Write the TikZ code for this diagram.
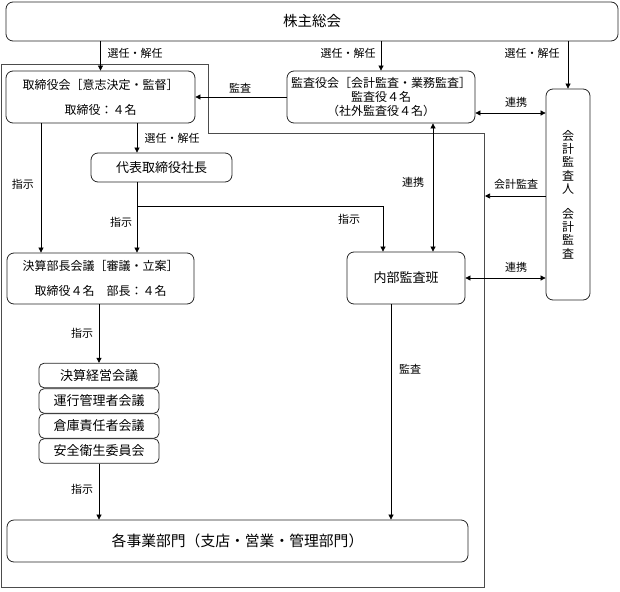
\documentclass[tikz,border=0pt]{standalone}
\usepackage{fontspec}
\setmainfont{Noto Sans CJK JP}
\usetikzlibrary{arrows.meta}
\begin{document}
\begin{tikzpicture}[x=1pt,y=-1pt,
	box/.style={draw=black!85, rounded corners=7pt, line width=0.8pt, inner sep=0pt, align=center},
	lbl/.style={font=\fontsize{11}{13}\selectfont, inner sep=0pt},
	arr/.style={-{Triangle[length=5pt,width=5pt]}, line width=0.7pt},
	both/.style={{Triangle[length=5pt,width=5pt]}-{Triangle[length=5pt,width=5pt]}, line width=0.7pt}]
	\useasboundingbox (0,0) rectangle (620,591);
	% 外枠
	\draw[black!70, line width=0.8pt] (1,64) -- (208,64) -- (208,133) -- (484,133) -- (484,587) -- (1,587) -- cycle;
	
	\node	(kabu) at (312,21.5) [box, minimum width=612pt, minimum height=39pt, font=\fontsize{14.5}{16}\selectfont] {株主総会};
	\node	(tori) at (100.5,97) [box, minimum width=189pt, minimum height=52pt, font=\fontsize{12}{14}\selectfont] {取締役会［意志決定・監督］\\[11pt]取締役：４名};
	\node	(kansa) at (381,97) [box, minimum width=188pt, minimum height=52pt, font=\fontsize{12}{14}\selectfont] {監査役会［会計監査・業務監査］\\監査役４名\\（社外監査役４名）};
	\node	(kaikei) at (568,194.5) [box, minimum width=44pt, minimum height=211pt, font=\fontsize{12}{13.3}\selectfont] {会\\計\\監\\査\\人\\[11.7pt]会\\計\\監\\査};
	\node	(daihyo) at (161.5,167.5) [box, minimum width=141pt, minimum height=29pt, font=\fontsize{13}{15}\selectfont] {代表取締役社長};
	\node	(kessan) at (100.5,278.5) [box, minimum width=187pt, minimum height=51pt, font=\fontsize{12}{14}\selectfont] {決算部長会議［審議・立案］\\[11pt]取締役４名　部長：４名};
	\node	(naibu) at (406,278) [box, minimum width=118pt, minimum height=52pt, font=\fontsize{13}{15}\selectfont] {内部監査班};
	\node	(kaigi1) at (99,375.5) [box, rounded corners=5pt, minimum width=120pt, minimum height=24.5pt, font=\fontsize{13}{15}\selectfont] {決算経営会議};
	\node	(kaigi2) at (99,401) [box, rounded corners=5pt, minimum width=120pt, minimum height=24.5pt, font=\fontsize{13}{15}\selectfont] {運行管理者会議};
	\node	(kaigi3) at (99,426) [box, rounded corners=5pt, minimum width=120pt, minimum height=24.5pt, font=\fontsize{13}{15}\selectfont] {倉庫責任者会議};
	\node	(kaigi4) at (99,451) [box, rounded corners=5pt, minimum width=120pt, minimum height=24.5pt, font=\fontsize{13}{15}\selectfont] {安全衛生委員会};
	\node	(jigyo) at (237.5,541) [box, minimum width=461pt, minimum height=42pt, font=\fontsize{14.8}{16}\selectfont] {各事業部門（支店・営業・管理部門）};
	
	\coordinate (bunki) at (137,206);
	\coordinate (waku) at (485,196);
	
	\draw[arr] (kabu.south -| tori.north) -- (tori.north);
	\draw[arr] (kabu.south -| kansa.north) -- (kansa.north);
	\draw[arr] (kabu.south -| kaikei.north) -- (kaikei.north);
	\draw[arr] (kansa.west) -- (tori.east);
	\draw[both] (kansa.east |- 0,113) -- (kaikei.west |- 0,113);
	\draw[arr] (tori.south -| 137,0) -- (daihyo.north -| 137,0);
	\draw[arr] (tori.south -| 41,0) -- (kessan.north -| 41,0);
	\draw[arr] (daihyo.south -| 137,0) -- (kessan.north -| 137,0);
	\draw[arr] (bunki) -| (naibu.north -| 383,0);
	\draw[both] (kansa.south -| 433,0) -- (naibu.north -| 433,0);
	\draw[arr] (kaikei.west |- waku) -- (waku);
	\draw[both] (naibu.east) -- (kaikei.west |- naibu.east);
	\draw[arr] (kessan.south -| kaigi1.north) -- (kaigi1.north);
	\draw[arr] (kaigi4.south) -- (jigyo.north -| kaigi4.south);
	\draw[arr] (naibu.south -| 391,0) -- (jigyo.north -| 391,0);
	
	\node	(l1) at (135,53) [lbl] {選任・解任};
	\node	(l2) at (348,53) [lbl] {選任・解任};
	\node	(l3) at (532,53) [lbl] {選任・解任};
	\node	(l4) at (240,88) [lbl] {監査};
	\node	(l5) at (516,102) [lbl] {連携};
	\node	(l6) at (172,138) [lbl] {選任・解任};
	\node	(l7) at (23,184) [lbl] {指示};
	\node	(l8) at (413,182) [lbl] {連携};
	\node	(l9) at (516,184) [lbl] {会計監査};
	\node	(l10) at (121,222) [lbl] {指示};
	\node	(l11) at (349,219) [lbl] {指示};
	\node	(l12) at (516,267) [lbl] {連携};
	\node	(l13) at (82,333) [lbl] {指示};
	\node	(l14) at (410,369) [lbl] {監査};
	\node	(l15) at (82,489) [lbl] {指示};
\end{tikzpicture}
\end{document}
